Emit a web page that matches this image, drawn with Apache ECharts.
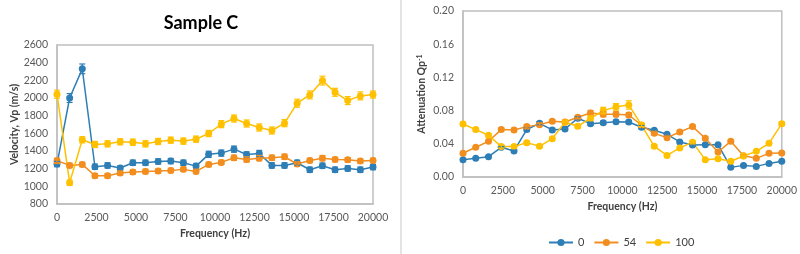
<!DOCTYPE html>
<html>
<head>
<meta charset="utf-8">
<script src="https://cdn.jsdelivr.net/npm/echarts@6/dist/echarts.min.js"></script>
<style>html,body{margin:0;padding:0;background:#fff;}#c{width:800px;height:254px;}</style>
</head>
<body>
<div id="c"></div>
<script>
var freq = [0,800,1600,2400,3200,4000,4800,5600,6400,7200,8000,8800,9600,10400,11200,12000,12800,13600,14400,15200,16000,16800,17600,18400,19200,20000];
var seriesNames = ['0','54','100'];
var colors = ['#2E7EB6','#F28E1F','#FFC000'];

// Left chart: Velocity Vp (m/s)
var vel0   = [1252,2000,2330,1222,1237,1207,1267,1267,1282,1286,1267,1229,1362,1376,1421,1361,1372,1237,1237,1267,1188,1233,1188,1203,1188,1218];
var vel54  = [1289,1237,1248,1120,1120,1150,1161,1169,1173,1180,1192,1169,1248,1271,1323,1304,1319,1323,1335,1252,1293,1319,1304,1300,1286,1293];
var vel100 = [2043,1041,1527,1474,1481,1504,1500,1481,1508,1523,1512,1534,1598,1704,1768,1711,1666,1632,1715,1941,2035,2197,2065,1971,2024,2039];
var velErr0   = [30,50,55,30,30,25,30,30,30,30,30,30,35,35,35,30,35,30,30,30,30,30,30,30,30,30];
var velErr54  = [30,25,25,25,25,25,25,25,25,25,25,25,25,25,30,30,30,30,30,25,25,30,25,25,25,25];
var velErr100 = [45,30,35,35,35,35,35,35,35,35,35,35,35,40,40,40,40,40,40,45,45,50,45,45,45,40];

// Right chart: Attenuation Qp^-1
var att0   = [0.0209,0.0225,0.0245,0.0358,0.0314,0.0571,0.0647,0.0567,0.0579,0.0708,0.0643,0.0655,0.0665,0.0663,0.0599,0.0563,0.0514,0.0422,0.0386,0.0390,0.0390,0.0116,0.0140,0.0128,0.0164,0.0189];
var att54  = [0.0286,0.0358,0.0430,0.0571,0.0567,0.0607,0.0631,0.0672,0.0663,0.0720,0.0772,0.0755,0.0755,0.0747,0.0623,0.0526,0.0474,0.0542,0.0607,0.0466,0.0301,0.0430,0.0257,0.0225,0.0285,0.0289];
var att100 = [0.0639,0.0571,0.0503,0.0366,0.0366,0.0414,0.0370,0.0462,0.0659,0.0611,0.0708,0.0800,0.0845,0.0868,0.0626,0.0370,0.0260,0.0350,0.0420,0.0209,0.0220,0.0189,0.0253,0.0309,0.0406,0.0643];
var attErr0   = [0.001,0.001,0.001,0.001,0.001,0.002,0.002,0.002,0.002,0.002,0.002,0.002,0.002,0.002,0.002,0.001,0.001,0.001,0.001,0.001,0.001,0.001,0.001,0.001,0.001,0.001];
var attErr54  = [0.001,0.001,0.001,0.002,0.002,0.002,0.002,0.002,0.002,0.002,0.003,0.003,0.003,0.003,0.002,0.002,0.002,0.002,0.002,0.002,0.001,0.002,0.001,0.001,0.001,0.001];
var attErr100 = [0.002,0.002,0.002,0.002,0.002,0.002,0.002,0.002,0.002,0.002,0.003,0.004,0.004,0.005,0.002,0.002,0.001,0.001,0.002,0.001,0.001,0.001,0.001,0.001,0.002,0.002];

var FONT = 'Lato';
var labelStyle = {color:'#595959', fontSize:10.5, fontFamily:FONT};
var nameStyle = {color:'#404040', fontSize:10.5, fontWeight:'bold', fontFamily:FONT};
function plain(v){ return String(v); }

function pairs(ys){ return freq.map(function(f,i){ return [f, ys[i]]; }); }
function triples(ys, es){ return freq.map(function(f,i){ return [f, ys[i], es[i]]; }); }

function lineSeries(name, ys, idx, color){
  return {type:'line', name:name, xAxisIndex:idx, yAxisIndex:idx, data:pairs(ys),
    symbol:'circle', symbolSize:7, z:3,
    lineStyle:{color:color, width:1.5}, itemStyle:{color:color}};
}
function errSeries(name, ys, es, idx, color){
  return {type:'custom', name:name+' err', xAxisIndex:idx, yAxisIndex:idx, z:4,
    data:triples(ys, es), silent:true,
    renderItem:function(params, api){
      var x = api.value(0), y = api.value(1), e = api.value(2);
      var hi = api.coord([x, y+e]), lo = api.coord([x, y-e]);
      var w = 3;
      var st = {stroke:color, lineWidth:1.2};
      return {type:'group', children:[
        {type:'line', shape:{x1:hi[0], y1:hi[1], x2:lo[0], y2:lo[1]}, style:st},
        {type:'line', shape:{x1:hi[0]-w, y1:hi[1], x2:hi[0]+w, y2:hi[1]}, style:st},
        {type:'line', shape:{x1:lo[0]-w, y1:lo[1], x2:lo[0]+w, y2:lo[1]}, style:st}
      ]};
    }};
}

var xAxisCommon = function(idx, gap){
  return {type:'value', gridIndex:idx, min:0, max:20000, interval:2500,
    name:'Frequency (Hz)', nameLocation:'middle', nameGap:gap, nameTextStyle:nameStyle,
    axisLine:{show:true, lineStyle:{color:'#bfbfbf', width:1.5}}, axisTick:{show:false},
    splitLine:{show:false}, axisLabel:Object.assign({margin:8, formatter:plain}, labelStyle)};
};

var option = {
  animation:false,
  backgroundColor:'#fff',
  color:colors,
  title:{text:'Sample C', left:196, top:9, textAlign:'center',
    textStyle:{fontSize:18, fontWeight:'bold', color:'#000', fontFamily:FONT}},
  legend:{data:seriesNames, left:543, top:232, itemWidth:24, itemHeight:9, itemGap:9,
    textStyle:{color:'#404040', fontSize:11, fontFamily:FONT}},
  graphic:[{type:'line', shape:{x1:401, y1:0, x2:401, y2:254}, style:{stroke:'#e3e3e3', lineWidth:2}}],
  grid:[
    {left:57, right:427, top:45, bottom:50, show:true, borderColor:'#bfbfbf', borderWidth:1.5},
    {left:463, right:16, top:11, bottom:77, show:true, borderColor:'#bfbfbf', borderWidth:1.5}
  ],
  xAxis:[xAxisCommon(0, 22), xAxisCommon(1, 22)],
  yAxis:[
    {type:'value', gridIndex:0, min:800, max:2600, interval:200,
      name:'Velocity, Vp (m/s)', nameLocation:'middle', nameGap:36, nameRotate:90, nameTextStyle:nameStyle,
      axisLine:{show:true, lineStyle:{color:'#bfbfbf', width:1.5}}, axisTick:{show:false}, splitLine:{show:false},
      axisLabel:Object.assign({margin:9, formatter:plain}, labelStyle)},
    {type:'value', gridIndex:1, min:0, max:0.2, interval:0.04,
      name:'Attenuation Qp{sup|-1}', nameLocation:'middle', nameGap:35, nameRotate:90,
      nameTextStyle:Object.assign({rich:{sup:{fontSize:7, fontWeight:'bold', color:'#404040', fontFamily:FONT, verticalAlign:'top', padding:[0,0,5,0]}}}, nameStyle),
      axisLine:{show:true, lineStyle:{color:'#bfbfbf', width:1.5}}, axisTick:{show:false}, splitLine:{show:false},
      axisLabel:Object.assign({margin:9, formatter:function(v){return v.toFixed(2);}}, labelStyle)}
  ],
  series:[
    lineSeries(seriesNames[0], vel0, 0, colors[0]),
    lineSeries(seriesNames[1], vel54, 0, colors[1]),
    lineSeries(seriesNames[2], vel100, 0, colors[2]),
    errSeries(seriesNames[0], vel0, velErr0, 0, colors[0]),
    errSeries(seriesNames[1], vel54, velErr54, 0, colors[1]),
    errSeries(seriesNames[2], vel100, velErr100, 0, colors[2]),
    lineSeries(seriesNames[0], att0, 1, colors[0]),
    lineSeries(seriesNames[1], att54, 1, colors[1]),
    lineSeries(seriesNames[2], att100, 1, colors[2]),
    errSeries(seriesNames[0], att0, attErr0, 1, colors[0]),
    errSeries(seriesNames[1], att54, attErr54, 1, colors[1]),
    errSeries(seriesNames[2], att100, attErr100, 1, colors[2])
  ]
};
var chart = echarts.init(document.getElementById('c'), null, {renderer:'canvas'});
chart.setOption(option);
</script>
</body>
</html>
